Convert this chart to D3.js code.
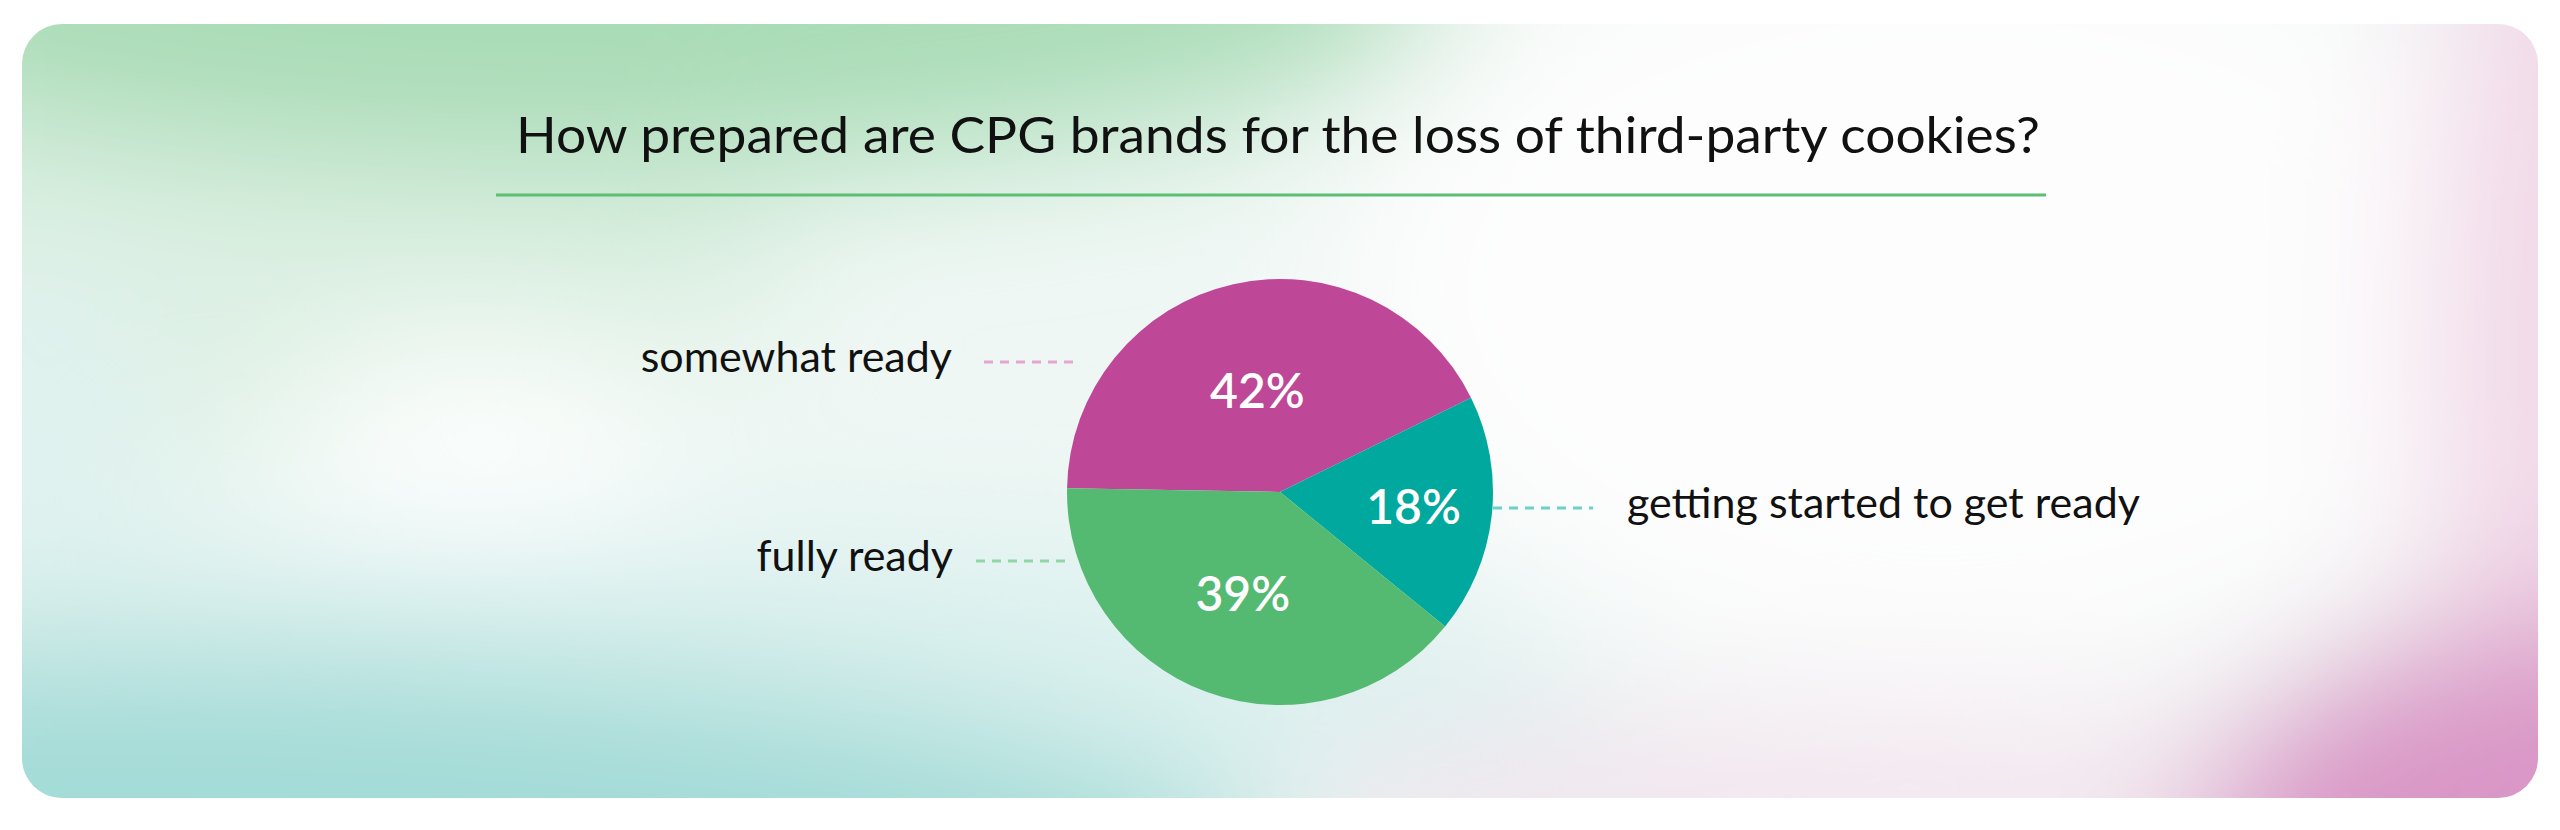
<!DOCTYPE html>
<html>
<head>
<meta charset="utf-8">
<script src="https://cdn.jsdelivr.net/npm/d3@7.9.0/dist/d3.min.js"></script>
<style>
  html, body { margin: 0; padding: 0; background: #ffffff; }
  svg { display: block; }
</style>
</head>
<body>
<svg id="chart" width="2560" height="830"></svg>
<script>
// chart data
const title = "How prepared are CPG brands for the loss of third-party cookies?";
const categories = ["somewhat ready", "getting started to get ready", "fully ready"];
const shares = [42, 18, 39];
const sliceColors = ["#BE4897", "#00A89D", "#55BA71"];
const leaderColors = ["#E3A7D0", "#6DD0C9", "#93D6A6"];

// leader line layout, relative to the pie centre
const leaderLayout = [
  { dy: -130, x0: -296, x1: -200, tx: -328 },
  { dy: 16, x0: 213, x1: 313, tx: 347 },
  { dy: 69, x0: -304, x1: -208, tx: -327 }
];

const W = 2560, H = 830;
const card = { x: 22, y: 24, w: 2516, h: 774, r: 40 };
const cx = 1280, cy = 492, radius = 213;

const svg = d3.select('#chart');
const defs = svg.append('defs');

defs.append('clipPath').attr('id', 'card-clip')
  .append('rect')
  .attr('x', card.x).attr('y', card.y)
  .attr('width', card.w).attr('height', card.h)
  .attr('rx', card.r);

defs.append('filter').attr('id', 'soft')
  .attr('x', '-50%').attr('y', '-50%').attr('width', '200%').attr('height', '200%')
  .append('feGaussianBlur').attr('stdDeviation', 75);

// soft coloured background
const bg = svg.append('g').attr('clip-path', 'url(#card-clip)');
bg.append('rect')
  .attr('x', card.x).attr('y', card.y)
  .attr('width', card.w).attr('height', card.h)
  .attr('fill', '#EFF7F4');

const blobs = bg.append('g').attr('filter', 'url(#soft)');
const blob = (x, y, rx, ry, fill) =>
  blobs.append('ellipse').attr('cx', x).attr('cy', y).attr('rx', rx).attr('ry', ry).attr('fill', fill);

blob(250, 250, 550, 200, '#DDF0E3');
blob(600, -20, 850, 190, '#A9DCB6');
blob(30, 470, 140, 220, '#E0F2EF');
blob(700, 690, 900, 160, '#DCF1EF');
blob(120, 880, 1150, 230, '#A3DBD7');
blob(480, 445, 200, 95, '#FFFFFF');
blob(1950, 290, 620, 400, '#FDFDFD');
blob(1850, 820, 560, 110, '#F3E6EF');
blob(2620, 380, 190, 700, '#F1D8E8');
blob(2590, 870, 400, 250, '#D996C6');

// title and rule
svg.append('text')
  .attr('x', 1278).attr('y', 153)
  .attr('text-anchor', 'middle')
  .attr('font-family', 'Lato, "Noto Sans", sans-serif')
  .attr('font-size', 50)
  .attr('fill', '#111111')
  .attr('textLength', 1524)
  .attr('lengthAdjust', 'spacingAndGlyphs')
  .text(title);

svg.append('line')
  .attr('x1', 496).attr('x2', 2046)
  .attr('y1', 195).attr('y2', 195)
  .attr('stroke', '#5DBE74')
  .attr('stroke-width', 3);

// pie
const start = -89 * Math.PI / 180;
const pie = d3.pie().sort(null).value(d => d).startAngle(start).endAngle(start + 2 * Math.PI);
const arcs = pie(shares);
const arcGen = d3.arc().innerRadius(0).outerRadius(radius);

const g = svg.append('g').attr('transform', `translate(${cx},${cy})`);

g.selectAll('path.slice')
  .data(arcs)
  .join('path')
  .attr('class', 'slice')
  .attr('d', arcGen)
  .attr('fill', (d, i) => sliceColors[i]);

// value labels at the area centroid of each sector
g.selectAll('text.value')
  .data(arcs)
  .join('text')
  .attr('class', 'value')
  .attr('transform', d => {
    const th = d.endAngle - d.startAngle;
    const rc = 4 * radius * Math.sin(th / 2) / (3 * th);
    const mid = (d.startAngle + d.endAngle) / 2;
    return `translate(${rc * Math.sin(mid)},${-rc * Math.cos(mid)})`;
  })
  .attr('text-anchor', 'middle')
  .attr('dy', '0.36em')
  .attr('font-family', 'Lato, "Noto Sans", sans-serif')
  .attr('font-weight', 600)
  .attr('font-size', 48)
  .attr('fill', '#ffffff')
  .text(d => d.data + '%');

// leader lines and category labels
g.selectAll('line.leader')
  .data(leaderLayout)
  .join('line')
  .attr('class', 'leader')
  .attr('x1', d => d.x0).attr('x2', d => d.x1)
  .attr('y1', d => d.dy).attr('y2', d => d.dy)
  .attr('stroke', (d, i) => leaderColors[i])
  .attr('stroke-width', 3)
  .attr('stroke-dasharray', '9 7');

g.selectAll('text.cat')
  .data(leaderLayout)
  .join('text')
  .attr('class', 'cat')
  .attr('x', d => d.tx)
  .attr('y', d => d.dy + 10)
  .attr('text-anchor', d => d.tx < 0 ? 'end' : 'start')
  .attr('font-family', 'Lato, "Noto Sans", sans-serif')
  .attr('font-size', 43)
  .attr('fill', '#111111')
  .text((d, i) => categories[i]);
</script>
</body>
</html>
